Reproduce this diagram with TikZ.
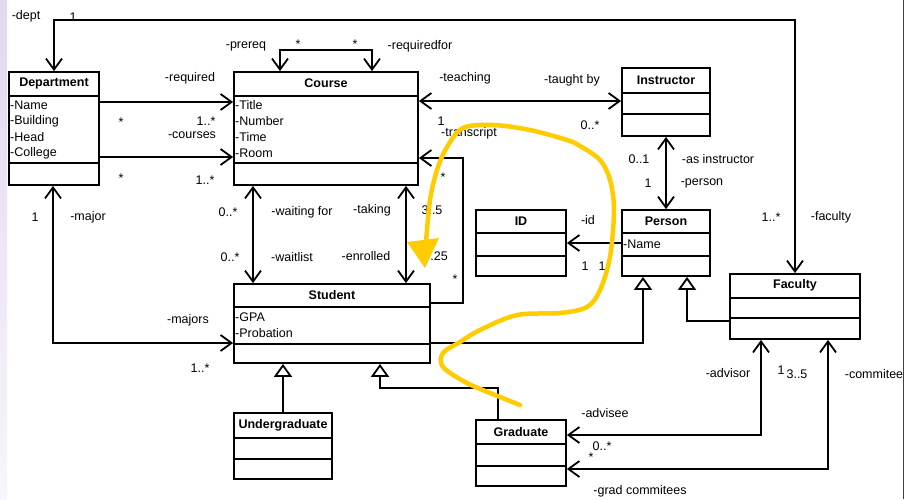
\documentclass[tikz,border=0pt]{standalone}
\usepackage{fontspec}
\setmainfont{Liberation Sans}
\usetikzlibrary{arrows.meta,fit,calc}
\definecolor{hl}{RGB}{255,204,0}
\definecolor{lav}{RGB}{226,216,240}
\tikzset{
  every node/.style={font=\fontsize{12.5}{15}\selectfont, inner sep=0pt},
  classbox/.style={draw, line width=1.8pt, inner sep=0pt},
  ctitle/.style={font=\fontsize{12.5}{15}\selectfont\bfseries},
  attr/.style={anchor=west},
  conn/.style={line width=1.8pt},
  barb/.tip={Straight Barb[length=11pt,width=16pt]},
  both/.style={conn, barb-barb},
  one/.style={conn, -barb},
  gen/.style={conn, -{Triangle[open,length=13pt,width=18pt]}},
  sepline/.style={line width=1.8pt},
}
\newcommand\umlcls[8]{%
  \node[classbox, fit={(#2,#3)(#4,#5)}] (#1) {};
  \draw[sepline] (#1.west |- 0,#6) -- (#1.east |- 0,#6);
  \draw[sepline] (#1.west |- 0,#7) -- (#1.east |- 0,#7);
  \node[ctitle] (#1-t) at ($(#1.north)!0.5!(#1.north |- 0,#6)$) {#8};
}
\begin{document}
\begin{tikzpicture}[x=1pt,y=-1pt]
\useasboundingbox (0,0) rectangle (905,499);
\fill[white] (0,0) rectangle (905,499);
\shade[top color=lav, bottom color=lav!25] (0,0) rectangle (7,499);
\draw[line width=1pt, black!75] (903.5,0) -- (903.5,499);

% classes
\umlcls{dept}{9}{72}{99}{185}{96}{163}{Department}
\node[attr] (dept-a1) at (10,105) {-Name};
\node[attr] (dept-a2) at (10,121) {-Building};
\node[attr] (dept-a3) at (10,137) {-Head};
\node[attr] (dept-a4) at (10,153) {-College};

\umlcls{course}{234}{72}{418}{185}{96}{163}{Course}
\node[attr] (course-a1) at (235,105) {-Title};
\node[attr] (course-a2) at (235,121) {-Number};
\node[attr] (course-a3) at (235,137) {-Time};
\node[attr] (course-a4) at (235,153) {-Room};

\umlcls{instr}{622}{68}{710}{136}{93}{114}{Instructor}
\umlcls{person}{622}{210}{710}{276}{233}{256}{Person}
\node[attr] (person-a1) at (623,244) {-Name};
\umlcls{id}{476}{210}{566}{276}{233}{256}{ID}
\umlcls{fac}{730}{274}{860}{339}{298}{318}{Faculty}
\umlcls{stud}{234}{284}{430}{363}{307}{344}{Student}
\node[attr] (stud-a1) at (235,317) {-GPA};
\node[attr] (stud-a2) at (235,333) {-Probation};
\umlcls{ugrad}{234}{413}{332}{479}{438}{459}{Undergraduate}
\umlcls{grad}{476}{420}{566}{486}{444}{466}{Graduate}

% connectors
\draw[both] (fac.north) -- (fac.north |- 0,20) -- (dept.north |- 0,20) -- (dept.north);
\draw[one] (dept.east |- 0,102) -- (course.west |- 0,102);
\draw[one] (dept.east |- 0,157) -- (course.west |- 0,157);
\draw[both] (course.north -| 280,0) -- (280,50) -- (372,50) -- (course.north -| 372,0);
\draw[both] (course.east |- 0,101) -- (instr.west |- 0,101);
\draw[one] (stud.east |- 0,303) -- (463,303) -- (463,158) -- (course.east |- 0,158);
\draw[both] (course.south -| 253,0) -- (stud.north -| 253,0);
\draw[both] (course.south -| 406,0) -- (stud.north -| 406,0);
\draw[both] (dept.south -| 53,0) -- (53,343) -- (stud.west |- 0,343);
\draw[gen] (stud.east |- 0,343) -- (643,343) -- (person.south -| 643,0);
\draw[gen] (fac.west |- 0,321) -- (687,321) -- (person.south -| 687,0);
\draw[both] (instr.south) -- (person.north);
\draw[one] (person.west |- 0,243) -- (id.east |- 0,243);
\draw[gen] (ugrad.north) -- (stud.south -| ugrad.north);
\draw[gen] (grad.north -| 498,0) -- (498,388) -- (380,388) -- (stud.south -| 380,0);
\draw[both] (grad.east |- 0,435) -- (761,435) -- (fac.south -| 761,0);
\draw[both] (grad.east |- 0,469) -- (828,469) -- (fac.south -| 828,0);

% labels
\node (l1) at (26,16) {-dept};
\node (l2) at (73,17) {1};
\node (l3) at (246,46) {-prereq};
\node (l4) at (298,44) {*};
\node (l5) at (355,44) {*};
\node (l6) at (420,46) {-requiredfor};
\node (l7) at (190,78) {-required};
\node (l8) at (121,122) {*};
\node (l9) at (206,121) {1..*};
\node (l10) at (192,135) {-courses};
\node (l11) at (121,178) {*};
\node (l12) at (205,180) {1..*};
\node (l13) at (465,78) {-teaching};
\node (l14) at (572,80) {-taught by};
\node (l15) at (441,121) {1};
\node (l16) at (469,133) {-transcript};
\node (l17) at (590,125) {0..*};
\node (l18) at (443,177) {*};
\node (l19) at (455,279) {*};
\node (l20) at (639,159) {0..1};
\node (l21) at (718,159) {-as instructor};
\node (l22) at (648,183) {1};
\node (l23) at (702,183) {-person};
\node (l24) at (771,217) {1..*};
\node (l25) at (831,217) {-faculty};
\node (l26) at (35,217) {1};
\node (l27) at (88,217) {-major};
\node (l28) at (228,212) {0..*};
\node (l29) at (302,212) {-waiting for};
\node (l30) at (230,257) {0..*};
\node (l31) at (292,257) {-waitlist};
\node (l32) at (372,210) {-taking};
\node (l33) at (432,210) {3..5};
\node (l34) at (366,256) {-enrolled};
\node[anchor=east] (l35) at (448,256) {1..25};
\node (l36) at (588,220) {-id};
\node (l37) at (585,266) {1};
\node (l38) at (602,266) {1};
\node (l39) at (188,320) {-majors};
\node (l40) at (200,368) {1..*};
\node (l41) at (728,373) {-advisor};
\node (l42) at (781,370) {1};
\node (l43) at (797,374) {3..5};
\node (l44) at (874,374) {-commitee};
\node (l45) at (605,413) {-advisee};
\node (l46) at (602,446) {0..*};
\node (l47) at (591,457) {*};
\node (l48) at (640,491) {-grad commitees};

% yellow freehand annotation
\draw[hl, line width=4.5pt, line cap=round, line join=round] plot[smooth, tension=0.55] coordinates {(520,405)(500,397)(467,383)(443,367)(443,353)(460,342)(480,330)(517,315)(560,313)(587,307)(600,290)(610,257)(614,210)(610,180)(600,160)(580,146)(567,140)(530,130)(493,125)(463,128)(447,147)(437,170)(430,200)(426,242)};
\fill[hl] (407,242) -- (439,238) -- (425,268) -- cycle;
\end{tikzpicture}
\end{document}
